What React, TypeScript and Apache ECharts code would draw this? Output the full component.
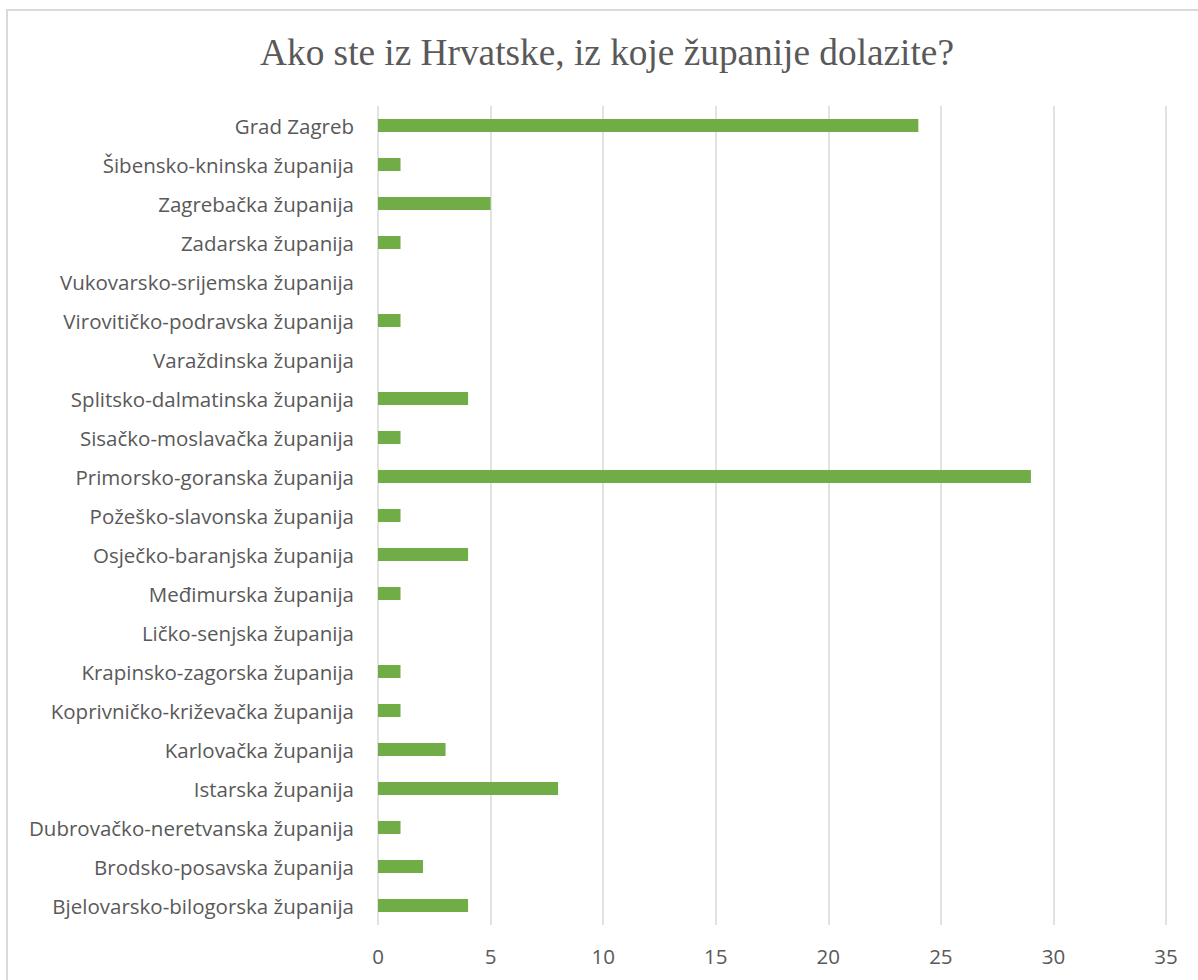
import React, { useEffect, useRef } from "react";
import * as echarts from "echarts";

const titleText = "Ako ste iz Hrvatske, iz koje županije dolazite?";

const categories = [
  "Grad Zagreb",
  "Šibensko-kninska županija",
  "Zagrebačka županija",
  "Zadarska županija",
  "Vukovarsko-srijemska županija",
  "Virovitičko-podravska županija",
  "Varaždinska županija",
  "Splitsko-dalmatinska županija",
  "Sisačko-moslavačka županija",
  "Primorsko-goranska županija",
  "Požeško-slavonska županija",
  "Osječko-baranjska županija",
  "Međimurska županija",
  "Ličko-senjska županija",
  "Krapinsko-zagorska županija",
  "Koprivničko-križevačka županija",
  "Karlovačka županija",
  "Istarska županija",
  "Dubrovačko-neretvanska županija",
  "Brodsko-posavska županija",
  "Bjelovarsko-bilogorska županija",
];

const values = [24, 1, 5, 1, 0, 1, 0, 4, 1, 29, 1, 4, 1, 0, 1, 1, 3, 8, 1, 2, 4];

const axisMin = 0;
const axisMax = 35;
const axisStep = 5;

export default function App() {
  const ref = useRef<HTMLDivElement>(null);
  useEffect(() => {
    if (!ref.current) return;
    const chart = echarts.init(ref.current, null, { renderer: "svg" });
    chart.setOption({
      animation: false,
      backgroundColor: "#ffffff",
      graphic: [
        {
          type: "rect",
          shape: { x: 7, y: 10, width: 1220, height: 1000 },
          style: { fill: "none", stroke: "#D9D9D9", lineWidth: 2 },
          silent: true,
        },
        {
          type: "text",
          x: 607,
          y: 52,
          style: {
            text: titleText,
            fill: "#595959",
            font: "37.3px 'Liberation Serif', 'Times New Roman', serif",
            textAlign: "center",
            textVerticalAlign: "middle",
          },
        },
      ],
      grid: { left: 378, right: 32, top: 106, bottom: 55, containLabel: false },
      xAxis: {
        type: "value",
        min: axisMin,
        max: axisMax,
        interval: axisStep,
        axisLine: { show: false },
        axisTick: { show: false },
        axisLabel: {
          color: "#595959",
          fontSize: 20.5,
          fontFamily: "'Open Sans', sans-serif",
          margin: 20,
        },
        splitLine: { show: true, lineStyle: { color: "#D9D9D9", width: 1.5 } },
      },
      yAxis: {
        type: "category",
        data: categories,
        inverse: true,
        axisLine: { show: false },
        axisTick: { show: false },
        axisLabel: {
          color: "#595959",
          fontSize: 20.5,
          fontFamily: "'Open Sans', sans-serif",
          margin: 24,
        },
      },
      series: [
        {
          type: "bar",
          data: values,
          barWidth: 13,
          itemStyle: { color: "#70AD47" },
        },
      ],
    });
    return () => chart.dispose();
  }, []);
  return (
    <div
      ref={ref}
      style={{ position: "absolute", left: 0, top: 0, width: 1198, height: 980 }}
    />
  );
}
